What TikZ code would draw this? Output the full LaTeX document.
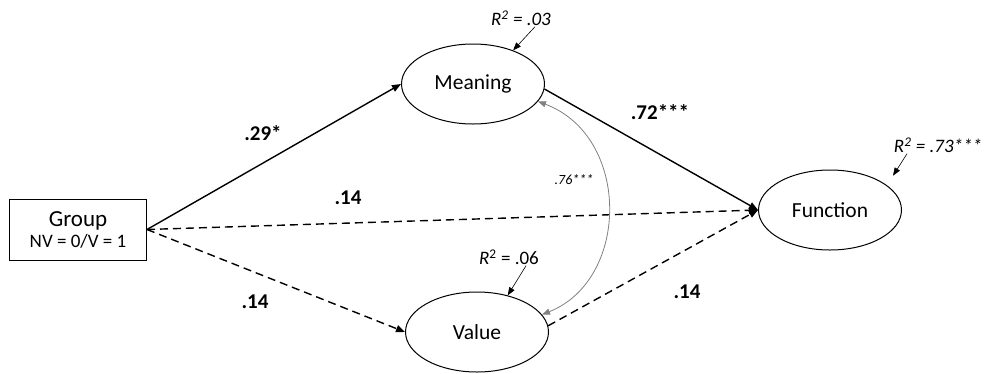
\documentclass[tikz,border=0pt]{standalone}
\usepackage{fontspec}
\setmainfont{Carlito}
\usetikzlibrary{shapes.geometric,arrows.meta}

\begin{document}
\begin{tikzpicture}[x=1pt,y=-1pt,
    latent/.style={ellipse,draw,line width=1pt,minimum width=143pt,minimum height=80pt,inner sep=0pt,font=\fontsize{21.5}{24}\selectfont},
    path/.style={line width=1.4pt,-{Triangle[length=9pt,width=7pt]}},
    nspath/.style={path,dash pattern=on 8pt off 5pt},
    coef/.style={font=\fontsize{21}{24}\selectfont\bfseries},
    rsq/.style={inner sep=1pt,font=\fontsize{19}{21}\selectfont},
    rarrow/.style={line width=0.6pt,-{Triangle[length=8pt,width=6pt]}}]
        \useasboundingbox (0,0) rectangle (987,373);
        \node[draw,line width=1pt,minimum width=137pt,minimum height=61pt,align=center] (g) at (78,229.5) {{\fontsize{23}{26}\selectfont Group}\\[3pt]{\fontsize{19}{22}\selectfont NV = 0/V = 1}};
        \node[latent] (m) at (473,84) {Meaning};
        \node[latent] (v) at (477,332) {Value};
        \node[latent] (f) at (830,210) {Function};
        \draw[path] (g.east) to (m.west);
        \draw[nspath] (g.east) to (f.west);
        \draw[nspath] (g.east) to (v.west);
        \draw[path] (m.-4) to (f.west);
        \draw[nspath] (v.5) to (f.west);
        \draw[gray,line width=0.8pt,{Triangle[length=8pt,width=6pt]}-{Triangle[length=8pt,width=6pt]}] (m.-15) .. controls +(93,35) and +(88,-35) .. (v.15);
        \node[coef] (b1) at (263,133) {.29*};
        \node[coef] (b2) at (660,112) {.72***};
        \node[coef] (b3) at (348,198) {.14};
        \node[coef] (b4) at (255,302) {.14};
        \node[coef] (b5) at (687,292) {.14};
        \node[font=\fontsize{14}{16}\selectfont\itshape] (c) at (574,180) {.76***};
        \node[rsq,font=\fontsize{19}{21}\selectfont\itshape] (r2m) at (521,18) {R\textsuperscript{2} = .03};
        \node[rsq] (r2v) at (509,257) {\textit{R}\textsuperscript{2} = .06};
        \node[rsq,font=\fontsize{19}{21}\selectfont\itshape] (r2f) at (938,145) {R\textsuperscript{2} = .73***};
        \draw[rarrow] ([xshift=14pt]r2m.south) to (m.40);
        \draw[rarrow] ([xshift=17pt]r2v.south) to (v.50);
        \draw[rarrow] ([xshift=-31pt]r2f.south) to ++(-14,22);
    \end{tikzpicture}
\end{document}
